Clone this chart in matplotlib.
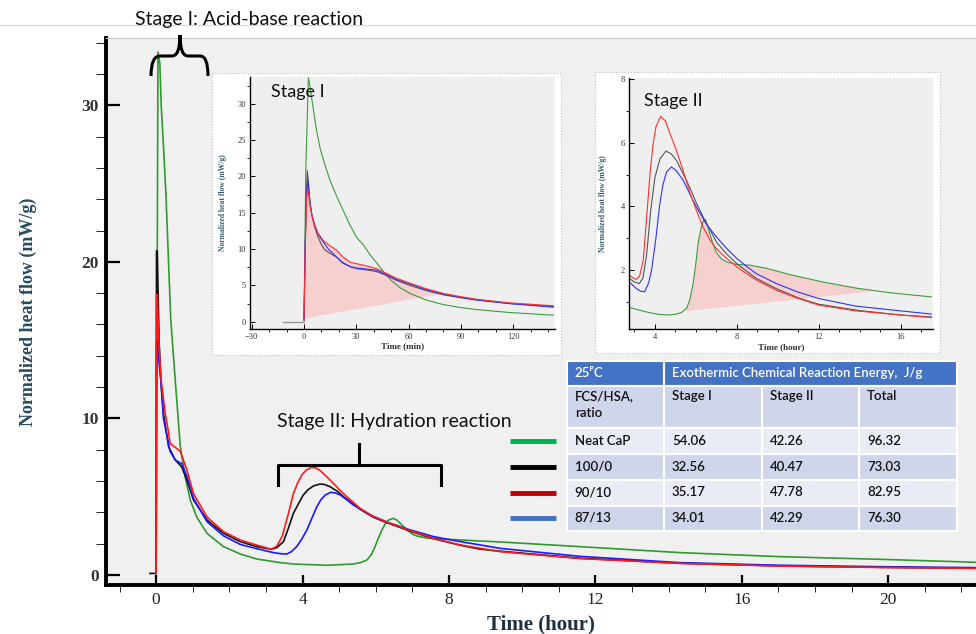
import numpy as np
import matplotlib.pyplot as plt
from matplotlib.patches import Rectangle, PathPatch
from matplotlib.path import Path
from matplotlib.ticker import MultipleLocator

# ---- main chart data, time in hours, heat flow in mW/g ----
green_t = [0.0, 0.02, 0.05, 0.10, 0.14, 0.20, 0.27, 0.34, 0.40, 0.52, 0.66, 0.79, 0.93, 1.11,
           1.39, 1.84, 2.30, 2.75, 3.39, 3.75, 4.66, 5.39, 5.6, 5.76, 5.88, 5.98, 6.08, 6.17,
           6.27, 6.35, 6.48, 6.58, 6.67, 6.85, 7.0, 7.12, 7.35, 7.58, 8.31, 8.85, 9.4, 11.58,
           14.3, 17.05, 19.8, 22.4]
green_v = [0.1, 13.0, 33.4, 32.7, 29.9, 27.4, 24.2, 19.9, 16.3, 12.5, 8.2, 6.3, 4.8, 3.7,
           2.66, 1.81, 1.34, 1.02, 0.79, 0.70, 0.62, 0.70, 0.8, 0.96, 1.3, 1.81, 2.4, 2.88,
           3.3, 3.51, 3.62, 3.5, 3.3, 2.88, 2.62, 2.49, 2.38, 2.32, 2.24, 2.17, 2.11, 1.81,
           1.43, 1.17, 1.0, 0.81]

black_t = [-0.17, 0.0, 0.01, 0.03, 0.08, 0.13, 0.20, 0.34, 0.52, 0.70, 0.84, 1.02, 1.39, 1.84,
           2.30, 2.75, 3.15, 3.3, 3.48, 3.6, 3.75, 3.9, 4.02, 4.15, 4.30, 4.48, 4.6, 4.75, 4.95,
           5.12, 5.57, 5.94, 6.35, 6.94, 7.58, 8.31, 8.85, 9.4, 11.58, 14.3, 17.05, 19.8, 22.4]
black_v = [0.1, 0.1, 20.7, 20.7, 15.0, 12.4, 10.3, 8.2, 7.35, 6.9, 6.06, 4.79, 3.51, 2.66,
           2.13, 1.81, 1.64, 1.75, 2.13, 2.9, 3.94, 4.6, 5.11, 5.45, 5.69, 5.81, 5.78, 5.64, 5.35,
           5.0, 4.2, 3.68, 3.3, 2.8, 2.32, 1.9, 1.65, 1.52, 1.07, 0.75, 0.58, 0.49, 0.43]

red_t = [0.0, 0.01, 0.03, 0.08, 0.14, 0.25, 0.34, 0.38, 0.66, 0.84, 1.02, 1.39, 1.84, 2.30,
         2.75, 3.15, 3.30, 3.45, 3.60, 3.75, 3.87, 3.98, 4.1, 4.25, 4.38, 4.48, 4.65, 4.84, 5.02,
         5.21, 5.57, 5.94, 6.35, 6.94, 7.58, 8.31, 9.4, 11.58, 14.3, 17.05, 19.8, 22.4]
red_v = [0.1, 17.9, 17.9, 14.5, 12.4, 10.3, 9.1, 8.4, 7.9, 6.7, 5.2, 3.7, 2.77, 2.23,
         1.91, 1.64, 1.85, 2.5, 3.8, 5.2, 5.9, 6.39, 6.7, 6.88, 6.82, 6.67, 6.3, 5.86, 5.42,
         5.0, 4.26, 3.73, 3.34, 2.83, 2.34, 1.92, 1.49, 1.05, 0.74, 0.57, 0.48, 0.42]

blue_t = [0.0, 0.01, 0.03, 0.08, 0.13, 0.20, 0.38, 0.52, 0.70, 0.84, 1.02, 1.39, 1.84, 2.30,
          2.75, 3.20, 3.4, 3.57, 3.7, 3.84, 3.98, 4.12, 4.25, 4.39, 4.5, 4.62, 4.77, 4.9, 5.03,
          5.2, 5.39, 5.85, 6.35, 6.94, 7.58, 8.31, 8.85, 9.4, 11.58, 14.3, 17.05, 19.8, 22.4]
blue_v = [0.1, 15.0, 15.0, 13.5, 12.4, 10.0, 7.9, 7.35, 7.1, 6.3, 4.9, 3.4, 2.5, 1.95,
          1.68, 1.43, 1.36, 1.34, 1.5, 1.81, 2.3, 2.88, 3.6, 4.36, 4.8, 5.11, 5.28, 5.24, 5.11,
          4.82, 4.47, 3.83, 3.34, 2.88, 2.45, 2.13, 1.92, 1.7, 1.19, 0.79, 0.62, 0.53, 0.47]

# ---- inset 1: stage I, time in minutes ----
in1_base_t = [-12, 0]
in1_base_v = [0.0, 0.0]
in1_green_t = [0, 1.0, 2.5, 3.5, 5, 7, 9.2, 12, 15, 18.7, 22.5, 26.4, 30.2, 34, 38, 42, 45.5,
               50, 55, 60.8, 70, 80, 90, 100, 118, 143]
in1_green_v = [0.2, 20.8, 33.6, 32.3, 29.8, 26.6, 23.9, 21.6, 19.4, 17.3, 15.3, 13.3, 11.6,
               10.6, 9.2, 8.0, 6.9, 5.7, 4.7, 3.9, 3.0, 2.35, 1.95, 1.65, 1.27, 0.9]
in1_black_t = [0, 0.6, 1.2, 1.9, 2.6, 3.4, 4.5, 6, 8, 10, 12, 15, 18.7, 22, 26.4, 30, 34, 38,
               41.7, 47, 53, 60.8, 70, 80, 90, 99, 118, 143]
in1_black_v = [0.2, 10.0, 17.0, 20.8, 19.0, 16.5, 14.6, 13.1, 11.7, 10.6, 9.9, 9.4, 8.9, 8.2,
               7.6, 7.3, 7.2, 7.05, 6.9, 6.4, 5.7, 5.0, 4.3, 3.7, 3.3, 3.0, 2.5, 2.1]
in1_red_t = [0, 0.7, 1.4, 2.0, 2.7, 3.4, 4.5, 6, 8, 11, 14, 18.7, 22, 26.4, 30, 34, 38, 41.7,
             47, 53, 60.8, 70, 80, 90, 99, 118, 143]
in1_red_v = [0.2, 10.0, 16.5, 18.3, 17.5, 16.0, 14.6, 13.4, 12.2, 11.2, 10.6, 9.85, 9.0, 8.2,
             8.0, 7.8, 7.55, 7.3, 6.7, 6.0, 5.3, 4.55, 3.9, 3.45, 3.1, 2.6, 2.2]
in1_blue_t = [0, 0.7, 1.5, 2.2, 2.8, 3.4, 4.5, 6, 8, 11, 14, 18.7, 22, 26.4, 30, 34, 38, 41.7,
              47, 53, 60.8, 70, 80, 90, 99, 118, 143]
in1_blue_v = [0.2, 11.0, 17.5, 19.5, 18.0, 16.5, 14.8, 13.4, 12.1, 11.0, 10.0, 8.9, 8.1, 7.6,
              7.4, 7.3, 7.2, 7.1, 6.5, 5.8, 5.2, 4.4, 3.8, 3.35, 3.0, 2.5, 2.0]
in1_fill_start = (0.3, 0.45)
in1_fill_end_t = 80

# ---- inset 2: stage II, time in hours ----
in2_green_t = [2.75, 3.2, 3.76, 4.2, 4.6, 5.0, 5.3, 5.55, 5.7, 5.87, 6.0, 6.11, 6.25, 6.36, 6.47,
               6.57, 6.68, 6.85, 7.0, 7.25, 7.5, 8.0, 8.63, 9.45, 10.6, 12.2, 13.8, 14.8, 15.5, 17.5]
in2_green_v = [0.82, 0.74, 0.65, 0.6, 0.58, 0.6, 0.66, 0.79, 1.05, 1.57, 2.2, 2.83, 3.3, 3.53, 3.58,
               3.4, 3.14, 2.8, 2.55, 2.35, 2.25, 2.17, 2.15, 2.05, 1.85, 1.62, 1.43, 1.34, 1.28, 1.15]
in2_black_t = [2.75, 3.0, 3.24, 3.42, 3.6, 3.8, 4.0, 4.25, 4.54, 4.8, 5.06, 5.4, 5.7, 6.03, 6.36,
               6.7, 7.0, 7.5, 8.0, 8.5, 8.96, 9.93, 11, 12, 14, 16, 17.5]
in2_black_v = [1.73, 1.62, 1.57, 1.75, 2.5, 3.9, 4.9, 5.5, 5.74, 5.65, 5.44, 5.0, 4.6, 4.1, 3.66,
               3.25, 2.88, 2.5, 2.2, 1.95, 1.73, 1.41, 1.12, 0.92, 0.72, 0.58, 0.52]
in2_red_t = [2.75, 2.95, 3.1, 3.25, 3.43, 3.59, 3.76, 3.9, 4.05, 4.28, 4.5, 4.73, 5.0, 5.38, 5.7,
             6.03, 6.35, 6.7, 7.0, 7.33, 8.0, 8.5, 8.96, 9.93, 11, 12.0, 13.8, 16.0, 17.5]
in2_red_v = [1.83, 1.74, 1.7, 1.8, 2.3, 3.6, 5.0, 5.9, 6.5, 6.83, 6.7, 6.3, 5.85, 5.13, 4.45,
             3.87, 3.35, 2.93, 2.67, 2.46, 2.1, 1.87, 1.68, 1.36, 1.1, 0.89, 0.71, 0.58, 0.5]
in2_blue_t = [2.75, 3.1, 3.3, 3.5, 3.7, 3.84, 4.05, 4.24, 4.4, 4.57, 4.81, 5.05, 5.38, 5.7, 6.03,
              6.5, 7.0, 7.5, 8.0, 8.5, 8.96, 9.93, 11, 12.0, 13.8, 16.0, 17.5]
in2_blue_v = [1.62, 1.41, 1.33, 1.31, 1.6, 2.0, 3.0, 4.08, 4.7, 5.08, 5.24, 5.12, 4.82, 4.4, 3.98,
              3.45, 3.04, 2.68, 2.36, 2.1, 1.88, 1.57, 1.3, 1.1, 0.86, 0.71, 0.61]
in2_fill_start = (5.55, 0.70)
in2_fill_end_t = 14.8

# ---- table ----
table_title = ["25\u1d3eC", "Exothermic Chemical Reaction Energy,  J/g"]
col_labels = ["FCS/HSA,\nratio", "Stage I", "Stage II", "Total"]
samples = ["Neat CaP", "100/0", "90/10", "87/13"]
stage1 = [54.06, 32.56, 35.17, 34.01]
stage2 = [42.26, 40.47, 47.78, 42.29]
total = [96.32, 73.03, 82.95, 76.30]
legend_colors = ["#00b050", "#000000", "#c00000", "#4472c4"]

SERIF = "Liberation Serif"
SANS = ["Lato", "DejaVu Sans"]

fig = plt.figure(figsize=(9.76, 6.34), dpi=100)

# main axes
ax = fig.add_axes([106 / 976, 1 - 585 / 634, 870 / 976, 547 / 634])
ax.set_facecolor("#f0f0f0")
ax.plot(green_t, green_v, color="#2e9a2e", lw=1.2)
ax.plot(black_t, black_v, color="#111111", lw=1.2)
ax.plot(blue_t, blue_v, color="#1a1aff", lw=1.2)
ax.plot(red_t, red_v, color="#ff1a1a", lw=1.2)
ax.set_xlim(-1.37, 22.4)
ax.set_ylim(-0.64, 34.3)
ax.xaxis.set_major_locator(MultipleLocator(4))
ax.xaxis.set_minor_locator(MultipleLocator(1))
ax.yaxis.set_major_locator(MultipleLocator(10))
ax.yaxis.set_minor_locator(MultipleLocator(2))
ax.tick_params(direction="in", width=1.6, color="black")
ax.tick_params(axis="y", which="major", length=10, pad=5)
ax.tick_params(axis="y", which="minor", length=7.5)
ax.tick_params(axis="x", which="major", length=7.5, pad=5)
ax.tick_params(axis="x", which="minor", length=5)
for lab in ax.get_yticklabels():
    lab.set_fontfamily(SERIF)
    lab.set_fontweight("bold")
    lab.set_fontsize(12.5)
    lab.set_color("#333333")
for lab in ax.get_xticklabels():
    lab.set_fontfamily(SERIF)
    lab.set_fontsize(12.5)
    lab.set_color("#222222")
ax.spines["left"].set_linewidth(2.8)
ax.spines["bottom"].set_linewidth(2.8)
ax.spines["right"].set_visible(False)
ax.spines["top"].set_color("#c8c8c8")
ax.spines["top"].set_linewidth(0.8)

# overlay in pixel coordinates for frames, table and notes
ov = fig.add_axes([0, 0, 1, 1], zorder=1)
ov.set_xlim(0, 976)
ov.set_ylim(634, 0)
ov.axis("off")

ov.plot([0, 976], [25, 25], color="#d9d9d9", lw=0.8)
ov.text(28, 312, "Normalized heat flow (mW/g)", rotation=90, ha="center", va="center",
        family=SERIF, weight="bold", fontsize=13, color="#284a60")
ov.text(541, 624, "Time (hour)", ha="center", va="center",
        family=SERIF, weight="bold", fontsize=15, color="#1f2f3f")

# stage I brace
verts = [(151, 76), (151, 56), (160, 56), (172, 56), (180, 56), (180, 35),
         (180, 56), (188, 56), (200, 56), (208, 56), (208, 76)]
codes = [Path.MOVETO, Path.CURVE3, Path.CURVE3, Path.LINETO, Path.CURVE3, Path.CURVE3,
         Path.CURVE3, Path.CURVE3, Path.LINETO, Path.CURVE3, Path.CURVE3]
ov.add_patch(PathPatch(Path(verts, codes), fill=False, lw=2.2, color="black"))
ov.text(135, 19, "Stage I: Acid-base reaction", ha="left", va="center",
        family=SANS, fontsize=14, color="#111111")

# stage II bracket
ov.plot([278, 278, 441, 441], [485, 465, 465, 485], color="black", lw=2.2)
ov.plot([359, 359], [444, 465], color="black", lw=2.2)
ov.text(277, 421, "Stage II: Hydration reaction", ha="left", va="center",
        family=SANS, fontsize=14, color="#111111")

# inset frames
for x0, y0, x1, y1 in [(212, 72.7, 561, 355), (595, 71.7, 940, 353)]:
    ov.add_patch(Rectangle((x0, y0), x1 - x0, y1 - y0, facecolor="white",
                           edgecolor="#c0c0c0", lw=0.8, ls=":"))

# table
col_x = [566.7, 663.8, 761.5, 859.2, 957.3]
row_y = [361, 385.5, 428, 453.8, 479.5, 505.5, 530.5]
ov.add_patch(Rectangle((col_x[0], row_y[0]), col_x[1] - col_x[0], row_y[1] - row_y[0],
                       facecolor="#4472c4", edgecolor="white", lw=1.5))
ov.add_patch(Rectangle((col_x[1], row_y[0]), col_x[4] - col_x[1], row_y[1] - row_y[0],
                       facecolor="#4472c4", edgecolor="white", lw=1.5))
ym = (row_y[0] + row_y[1]) / 2
ov.text(col_x[0] + 8, ym, table_title[0], ha="left", va="center", family=SANS,
        fontsize=9.5, weight="semibold", color="white")
ov.text(col_x[1] + 8, ym, table_title[1], ha="left", va="center", family=SANS,
        fontsize=9.5, weight="semibold", color="white")

body = [col_labels] + [[s, f"{a:.2f}", f"{b:.2f}", f"{c:.2f}"]
                       for s, a, b, c in zip(samples, stage1, stage2, total)]
for r, row in enumerate(body):
    top, bot = row_y[r + 1], row_y[r + 2]
    fc = "#cfd5ea" if r % 2 == 0 else "#e9ebf5"
    for c, txt in enumerate(row):
        ov.add_patch(Rectangle((col_x[c], top), col_x[c + 1] - col_x[c], bot - top,
                               facecolor=fc, edgecolor="white", lw=1.5))
        if r == 0:
            ov.text(col_x[c] + 8, top + 5, txt, ha="left", va="top", family=SANS,
                    fontsize=9.5, weight="semibold", color="#111111", linespacing=1.45)
        else:
            ov.text(col_x[c] + 8, (top + bot) / 2, txt, ha="left", va="center", family=SANS,
                    fontsize=9.5, weight="semibold", color="#111111")
    if r > 0:
        ov.plot([510, 556], [(top + bot) / 2] * 2, color=legend_colors[r - 1], lw=3.5,
                solid_capstyle="butt")


def style_inset(a, xlabel):
    a.set_facecolor("#efefef")
    a.spines["right"].set_visible(False)
    a.spines["top"].set_visible(False)
    a.spines["left"].set_linewidth(1.0)
    a.spines["bottom"].set_linewidth(1.0)
    a.tick_params(direction="in", width=0.7, labelsize=6, pad=3)
    a.tick_params(which="major", length=3.5)
    a.tick_params(which="minor", length=2)
    for lab in a.get_xticklabels() + a.get_yticklabels():
        lab.set_fontfamily(SERIF)
        lab.set_color("#333333")
    a.text(-0.088, 0.5, "Normalized heat flow (mW/g)", transform=a.transAxes, rotation=90,
           ha="center", va="center", family=SERIF, weight="bold", fontsize=5.5, color="#355f6e")
    a.text(0.5, -0.07, xlabel, transform=a.transAxes, ha="center", va="center",
           family=SERIF, weight="bold", fontsize=6.5, color="#333333")


# inset 1
a1 = fig.add_axes([250 / 976, 1 - 329 / 634, 305 / 976, 252 / 634], zorder=2)
sel = [i for i, t in enumerate(in1_red_t) if t <= in1_fill_end_t]
a1.fill([in1_red_t[i] for i in sel] + [in1_fill_start[0]],
        [in1_red_v[i] for i in sel] + [in1_fill_start[1]], color="#f6cfcf", lw=0)
a1.plot(in1_base_t, in1_base_v, color="#999999", lw=1.0)
a1.plot(in1_green_t, in1_green_v, color="#3c9c3c", lw=0.8)
a1.plot(in1_black_t, in1_black_v, color="#555555", lw=0.8)
a1.plot(in1_blue_t, in1_blue_v, color="#3030ff", lw=0.8)
a1.plot(in1_red_t, in1_red_v, color="#ff3030", lw=0.8)
a1.set_xlim(-31, 144)
a1.set_ylim(-1.0, 33.7)
a1.xaxis.set_major_locator(MultipleLocator(30))
a1.xaxis.set_minor_locator(MultipleLocator(10))
a1.yaxis.set_major_locator(MultipleLocator(5))
a1.yaxis.set_minor_locator(MultipleLocator(2.5))
style_inset(a1, "Time (min)")
a1.text(0.07, 0.94, "Stage I", transform=a1.transAxes, ha="left", va="center",
        family=SANS, fontsize=13, color="#111111")

# inset 2
a2 = fig.add_axes([629.3 / 976, 1 - 329.3 / 634, 303.4 / 976, 251 / 634], zorder=2)
sel = [i for i, t in enumerate(in2_green_t) if in2_fill_start[0] <= t <= in2_fill_end_t]
a2.fill([in2_green_t[i] for i in sel] + [in2_fill_start[0]],
        [in2_green_v[i] for i in sel] + [in2_fill_start[1]], color="#f6cfcf", lw=0)
a2.plot(in2_green_t, in2_green_v, color="#3c9c3c", lw=0.8)
a2.plot(in2_black_t, in2_black_v, color="#555555", lw=0.8)
a2.plot(in2_blue_t, in2_blue_v, color="#3030ff", lw=0.8)
a2.plot(in2_red_t, in2_red_v, color="#ff3030", lw=0.8)
a2.set_xlim(2.75, 17.57)
a2.set_ylim(0.13, 8.03)
a2.xaxis.set_major_locator(MultipleLocator(4))
a2.xaxis.set_minor_locator(MultipleLocator(1))
a2.yaxis.set_major_locator(MultipleLocator(2))
a2.yaxis.set_minor_locator(MultipleLocator(1))
style_inset(a2, "Time (hour)")
a2.text(0.05, 0.91, "Stage II", transform=a2.transAxes, ha="left", va="center",
        family=SANS, fontsize=13, color="#111111")

fig.savefig("out.png", dpi=100)
